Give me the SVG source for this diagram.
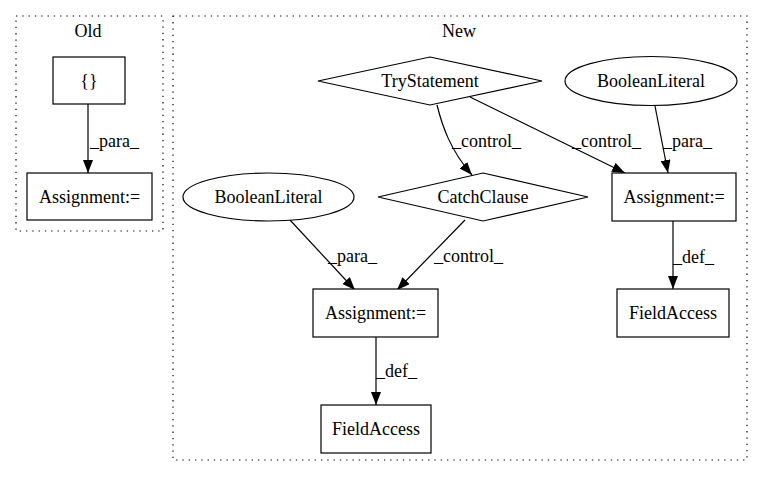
<svg xmlns="http://www.w3.org/2000/svg" width="763" height="480" viewBox="0 0 763 480">
<defs>
<style>
text{font-family:"Liberation Serif","Times New Roman",serif;font-size:18px;fill:#000}
.c{text-anchor:middle}
.n{fill:#fff;stroke:#000;stroke-width:1.2}
.cl{fill:none;stroke:#000;stroke-width:1.2;stroke-dasharray:1.3,5}
.e{fill:none;stroke:#000;stroke-width:1.2;marker-end:url(#arr)}
</style>
<marker id="arr" markerWidth="13" markerHeight="10" refX="13" refY="5" orient="auto" markerUnits="userSpaceOnUse"><path d="M0,0 L13,5 L0,10 z" fill="#000"/></marker>
</defs>
<rect width="763" height="480" fill="#fff"/>
<g id="cluster_old">
<rect class="cl" x="16" y="16" width="147" height="215"/>
<text class="c" x="88" y="37">Old</text>
</g>
<g id="cluster_new">
<rect class="cl" x="173" y="16" width="574" height="444"/>
<text class="c" x="459" y="37">New</text>
</g>
<g id="connectors">
<path class="e" d="M88,104 L88,173"/>
<text x="90" y="147">_para_</text>
<path class="e" d="M437,105 C442,125 450,150 472,175"/>
<text x="452" y="147">_control_</text>
<path class="e" d="M470,97 L625,173"/>
<text x="572" y="147">_control_</text>
<path class="e" d="M655,106 L668,173"/>
<text x="663" y="147">_para_</text>
<path class="e" d="M673,221 L673,289"/>
<text x="673" y="263">_def_</text>
<path class="e" d="M290,220 L355,290"/>
<text x="328" y="262">_para_</text>
<path class="e" d="M465,220 L397,290"/>
<text x="434" y="262">_control_</text>
<path class="e" d="M376,337 L376,405"/>
<text x="376" y="377">_def_</text>
</g>
<g id="n_braces">
<rect class="n" x="53" y="57" width="72" height="47"/>
<text class="c" x="89" y="87">{}</text>
</g>
<g id="n_assign_old">
<rect class="n" x="27" y="173" width="125" height="47"/>
<text class="c" x="89.5" y="203">Assignment:=</text>
</g>
<g id="n_try">
<polygon class="n" points="430,57 542,81 430,105 318,81"/>
<text class="c" x="430" y="87">TryStatement</text>
</g>
<g id="n_bool_r">
<ellipse class="n" cx="651" cy="81" rx="86" ry="24.5"/>
<text class="c" x="651" y="87">BooleanLiteral</text>
</g>
<g id="n_catch">
<polygon class="n" points="483,173 588,197 483,221 378,197"/>
<text class="c" x="483" y="203">CatchClause</text>
</g>
<g id="n_bool_l">
<ellipse class="n" cx="268.5" cy="197" rx="85.5" ry="24"/>
<text class="c" x="268.5" y="203">BooleanLiteral</text>
</g>
<g id="n_assign_r">
<rect class="n" x="612" y="173" width="124" height="48"/>
<text class="c" x="674" y="203">Assignment:=</text>
</g>
<g id="n_assign_m">
<rect class="n" x="313" y="289" width="125" height="48"/>
<text class="c" x="375.5" y="319">Assignment:=</text>
</g>
<g id="n_field_r">
<rect class="n" x="617" y="289" width="112" height="48"/>
<text class="c" x="673" y="319">FieldAccess</text>
</g>
<g id="n_field_b">
<rect class="n" x="321" y="405" width="110" height="48"/>
<text class="c" x="376" y="435">FieldAccess</text>
</g>
</svg>
